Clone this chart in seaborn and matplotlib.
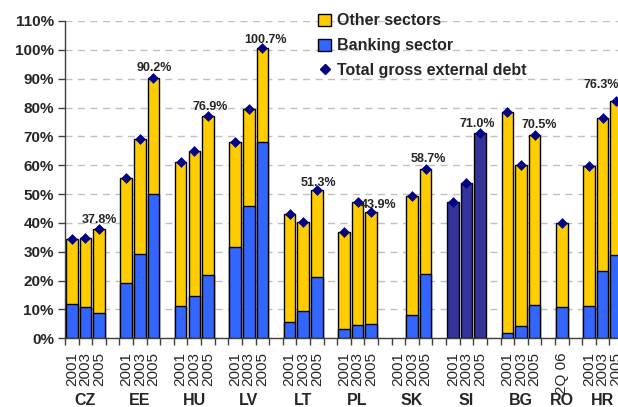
import numpy as np
import pandas as pd
import matplotlib
matplotlib.use("Agg")
import matplotlib.pyplot as plt
import matplotlib.transforms as mtransforms
import seaborn as sns
from matplotlib.patches import Patch
from matplotlib.lines import Line2D
from matplotlib.ticker import FuncFormatter, FixedLocator

# ---------------- data ----------------
groups = ["CZ", "EE", "HU", "LV", "LT", "PL", "SK", "SI", "BG", "RO", "HR"]
periods = [
    ["2001", "2003", "2005"], ["2001", "2003", "2005"], ["2001", "2003", "2005"],
    ["2001", "2003", "2005"], ["2001", "2003", "2005"], ["2001", "2003", "2005"],
    ["2001", "2003", "2005"], ["2001", "2003", "2005"], ["2001", "2003", "2005"],
    ["2Q 06"], ["2001", "2003", "2005"],
]
total_debt = [
    [34.5, 34.7, 37.8], [55.6, 69.0, 90.2], [61.1, 64.8, 76.9], [68.2, 79.6, 100.7],
    [43.2, 40.3, 51.3], [36.8, 47.4, 43.9], [np.nan, 49.3, 58.7], [47.4, 53.8, 71.0],
    [78.3, 60.1, 70.5], [40.0], [59.9, 76.3, 82.2],
]
banking_sector = [
    [11.8, 10.9, 8.9], [19.1, 29.2, 50.0], [11.2, 14.8, 22.0], [31.8, 45.7, 67.9],
    [5.6, 9.4, 21.4], [3.2, 4.7, 4.8], [np.nan, 8.2, 22.3], [np.nan, np.nan, np.nan],
    [1.7, 4.4, 11.5], [10.8], [11.2, 23.5, 28.9],
]
no_breakdown_groups = ["SI"]
label_texts = ["37.8%", "90.2%", "76.9%", "100.7%", "51.3%", "43.9%",
               "58.7%", "71.0%", "70.5%", "76.3%"]
label_slots = ["CZ 2005", "EE 2005", "HU 2005", "LV 2005", "LT 2005", "PL 2005",
               "SK 2005", "SI 2005", "BG 2005", "HR 2005"]
# label offsets (points)
label_dx = [0, 0.5, 2, 2, 1, 5.5, 2, -2, 3.5, -11]
label_dy = [7, 7.5, 6.5, 5.5, 5.5, 4.5, 7, 7, 7, 11.5]

# ---------------- frame ----------------
rows = []
order = []
tick_labels = []
group_centers = []
for gi, g in enumerate(groups):
    start = len(order)
    for p, t, b in zip(periods[gi], total_debt[gi], banking_sector[gi]):
        key = f"{g} {p}"
        order.append(key)
        tick_labels.append(p)
        rows.append(dict(key=key, group=g, total=t, banking=b,
                         kind="whole" if g in no_breakdown_groups else "split"))
    group_centers.append((start + len(order) - 1) / 2)
    if gi < len(groups) - 1:
        order.append(f"_gap{gi}")
        tick_labels.append("")
df = pd.DataFrame(rows)

YELLOW = "#FFCC00"
BLUE = "#3366FF"
NAVY_BAR = "#333399"
NAVY = "#000080"

sns.set_style("white")
plt.rcParams["font.family"] = ["Liberation Sans", "DejaVu Sans"]

fig = plt.figure(figsize=(6.18, 4.07), dpi=100)
ax = fig.add_axes([65 / 618, 68.7 / 407, 558 / 618, 317.3 / 407])

tot_df = df.dropna(subset=["total"])
sns.barplot(data=tot_df, x="key", y="total", order=order,
            hue="kind", palette={"split": YELLOW, "whole": NAVY_BAR}, dodge=False,
            saturation=1, width=0.85, edgecolor="black", linewidth=1.0,
            errorbar=None, legend=False, ax=ax, zorder=2)
sns.barplot(data=df.dropna(subset=["banking"]), x="key", y="banking", order=order,
            color=BLUE, saturation=1, width=0.85, edgecolor="black", linewidth=1.0,
            errorbar=None, ax=ax, zorder=3)
sns.stripplot(data=tot_df, x="key", y="total", order=order,
              color=NAVY, marker="D", size=5.5, jitter=False, linewidth=0,
              ax=ax, zorder=5)

ax.set_xlim(-0.5, len(order) - 0.5)
ax.set_ylim(0, 110)

# y axis
ax.yaxis.set_major_locator(FixedLocator(np.arange(0, 111, 10)))
ax.yaxis.set_major_formatter(FuncFormatter(lambda v, _: f"{int(round(v))}%"))
ax.tick_params(axis="y", which="major", left=True, length=5, width=1, color="#404040",
               labelsize=11, pad=3)
ax.yaxis.grid(True, linestyle=(0, (5, 4)), color="#C0C0C0", linewidth=1)
ax.xaxis.grid(False)
ax.set_axisbelow(True)

# x axis
ax.set_xticks(np.arange(len(order)))
ax.set_xticklabels(tick_labels, rotation=90, fontsize=11)
ax.set_xticks(np.arange(len(order) + 1) - 0.5, minor=True)
ax.tick_params(axis="x", which="major", length=0, pad=10)
ax.tick_params(axis="x", which="minor", bottom=True, length=5, width=1, color="#404040")
for t in ax.get_yticklabels():
    t.set_fontweight("bold")

ax.set_xlabel("")
ax.set_ylabel("")
for s in ["top", "right"]:
    ax.spines[s].set_visible(False)
for s in ["left", "bottom"]:
    ax.spines[s].set_color("#404040")
    ax.spines[s].set_linewidth(1)

trans = mtransforms.blended_transform_factory(ax.transData, ax.transAxes)
for g, c in zip(groups, group_centers):
    ax.text(c, -0.196, g, transform=trans, ha="center", va="center",
            fontsize=11.5, fontweight="bold", clip_on=False)

# value labels
tot_lookup = dict(zip(df["key"], df["total"]))
for txt, key, dx, dy in zip(label_texts, label_slots, label_dx, label_dy):
    ax.annotate(txt, xy=(order.index(key), tot_lookup[key]), xytext=(dx, dy),
                textcoords="offset points", ha="center", va="center",
                fontsize=9, fontweight="bold", zorder=6, annotation_clip=False)

# legend
handles = [
    Patch(facecolor=YELLOW, edgecolor="black", linewidth=1.0, label="Other sectors"),
    Patch(facecolor=BLUE, edgecolor="black", linewidth=1.0, label="Banking sector"),
    Line2D([], [], marker="D", color=NAVY, linestyle="none", markersize=5.5,
           label="Total gross external debt"),
]
fig.legend(handles=handles, loc="upper left", bbox_to_anchor=(312 / 618, 1 - 7 / 407),
           frameon=False, prop={"weight": "bold", "size": 11.5},
           handlelength=0.8, handleheight=0.8, handletextpad=0.35, labelspacing=0.62,
           borderaxespad=0)

fig.savefig("out.png", dpi=100)
